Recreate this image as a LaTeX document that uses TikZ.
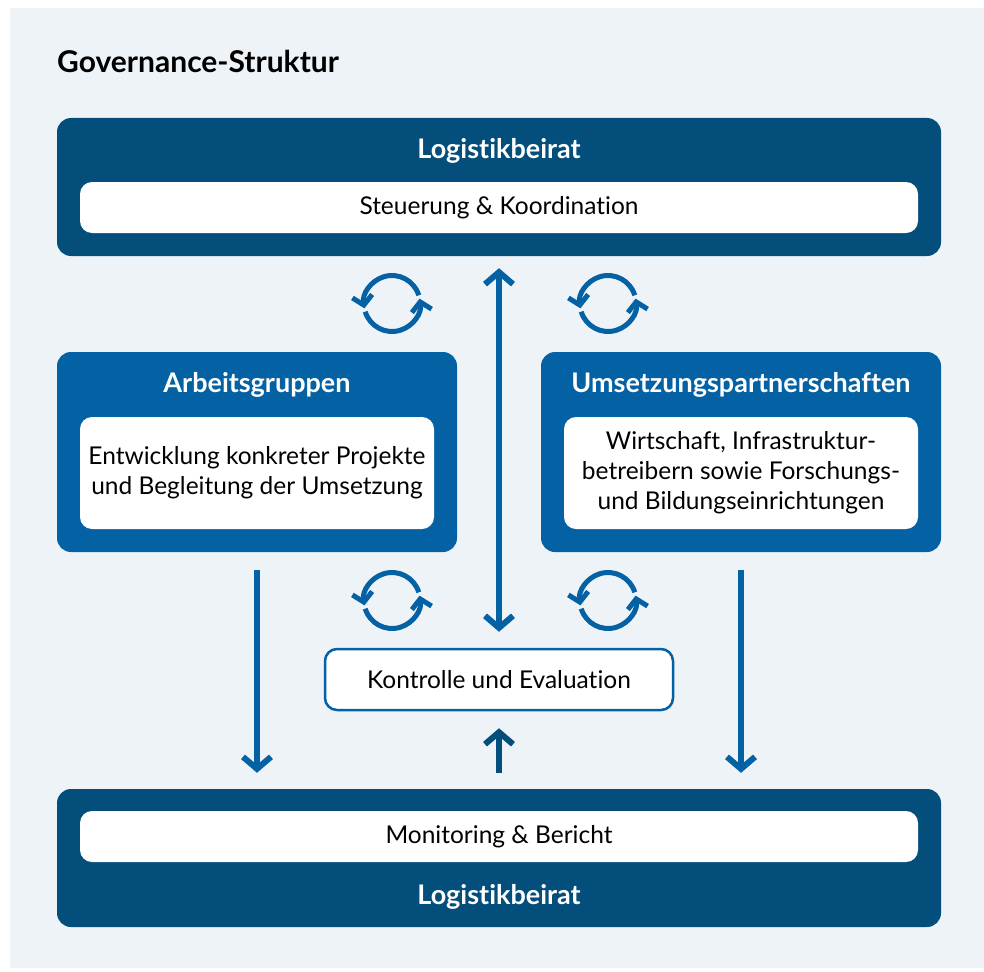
\documentclass[tikz,border=0pt]{standalone}
\usepackage{fontspec}
\setmainfont{Lato}[Ligatures={NoCommon}]
\usetikzlibrary{arrows.meta}
\definecolor{dblue}{HTML}{034E7B}
\definecolor{mblue}{HTML}{0461A4}
\definecolor{bgc}{HTML}{EEF3F7}
\begin{document}
\begin{tikzpicture}[x=1pt,y=-1pt,
  outerbox/.style={rectangle, rounded corners=14pt, inner sep=0pt},
  innerbox/.style={rectangle, rounded corners=12pt, fill=white, inner sep=0pt},
  headtext/.style={font=\fontsize{27}{30}\selectfont\bfseries, text=white, inner sep=0pt},
  bodytext/.style={font=\fontsize{24.5}{30}\selectfont, text=black, align=center, inner sep=0pt},
  bigtip/.tip={Straight Barb[length=12pt, width=28pt, line width=6pt]},
  bigarrow/.style={line width=6pt, -bigtip},
  cyc/.style={line width=5pt, draw=mblue, -{Straight Barb[length=9pt, width=20pt, line width=5pt]}},
  cycleicon/.pic={
    \draw[cyc] (-17:28) arc[start angle=-17, end angle=-190, radius=28];
    \draw[cyc] (-197:28) arc[start angle=-197, end angle=-370, radius=28];
  }]
\useasboundingbox (0,0) rectangle (984,971);
\fill[bgc] (10,8) rectangle (984,968);

\node[anchor=base west, font=\fontsize{30}{34}\selectfont\bfseries, inner sep=0pt] (title) at (57,73) {Governance-Struktur};

% top box
\node[outerbox, fill=dblue, minimum width=884pt, minimum height=138pt] (top) at (499,187) {};
\node[headtext] (toph) at (499,151) {Logistikbeirat};
\node[innerbox, minimum width=838pt, minimum height=51pt] (topi) at (499,207.5) {};
\node[bodytext] (topt) at (topi.center) {Steuerung \& Koordination};

% left box
\node[outerbox, fill=mblue, minimum width=400pt, minimum height=200pt] (left) at (257,452) {};
\node[headtext] (lefth) at (257,385) {Arbeitsgruppen};
\node[innerbox, minimum width=354pt, minimum height=112pt] (lefti) at (257,473) {};
\node[bodytext] (leftt) at (lefti.center) {Entwicklung konkreter Projekte\\und Begleitung der Umsetzung};

% right box
\node[outerbox, fill=mblue, minimum width=400pt, minimum height=200pt] (right) at (741,452) {};
\node[headtext] (righth) at (741,385) {Umsetzungspartnerschaften};
\node[innerbox, minimum width=354pt, minimum height=112pt] (righti) at (741,473) {};
\node[bodytext] (rightt) at (righti.center) {Wirtschaft, Infrastruktur-\\betreibern sowie Forschungs-\\und Bildungseinrichtungen};

% Kontrolle
\node[rectangle, rounded corners=12pt, fill=white, draw=mblue, line width=2.5pt, minimum width=348pt, minimum height=61pt, inner sep=0pt] (kon) at (499,679.5) {};
\node[bodytext] (kont) at (kon.center) {Kontrolle und Evaluation};

% bottom box
\node[outerbox, fill=dblue, minimum width=884pt, minimum height=138pt] (bot) at (499,858) {};
\node[innerbox, minimum width=838pt, minimum height=51pt] (boti) at (499,836.5) {};
\node[bodytext] (bott) at (boti.center) {Monitoring \& Bericht};
\node[headtext] (both) at (499,897) {Logistikbeirat};

% arrows
\draw[line width=6pt, draw=mblue, bigtip-bigtip, shorten <=12pt, shorten >=16pt] (top.south) -- (kon.north);
\draw[bigarrow, draw=mblue, shorten <=18pt, shorten >=16pt] (left.south) -- (left.south |- bot.north);
\draw[bigarrow, draw=mblue, shorten <=18pt, shorten >=16pt] (right.south) -- (right.south |- bot.north);
\draw[bigarrow, draw=dblue, shorten <=16pt, shorten >=17pt] (bot.north) -- (kon.south);

% cycle icons
\pic at (392,303.5) {cycleicon};
\pic at (608,303.5) {cycleicon};
\pic at (392,600.5) {cycleicon};
\pic at (608,600.5) {cycleicon};
\end{tikzpicture}
\end{document}
